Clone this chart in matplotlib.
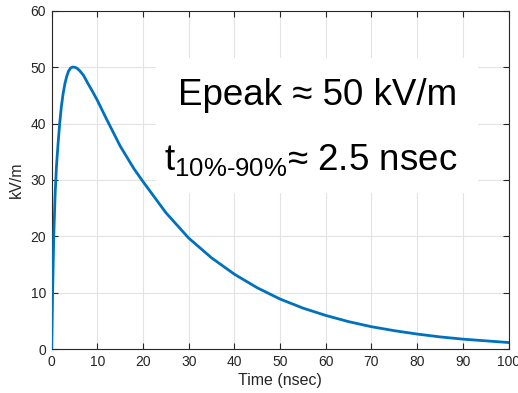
import matplotlib
matplotlib.use("Agg")
import matplotlib.pyplot as plt
from matplotlib.patches import Rectangle

plt.rcParams['font.family'] = ['Liberation Sans', 'DejaVu Sans']
plt.rcParams['mathtext.fontset'] = 'custom'
plt.rcParams['mathtext.rm'] = 'Liberation Sans'
plt.rcParams['mathtext.it'] = 'Liberation Sans'

# waveform
time_ns = [0, 0.2, 0.45, 0.75, 1.05, 1.4, 1.75, 2.1, 2.5, 2.9, 3.3, 3.7, 4.1,
           4.5, 4.9, 5.3, 5.7, 6.2, 7, 8, 9, 10, 12, 15, 18, 20, 25, 30, 35,
           40, 45, 50, 55, 60, 65, 70, 75, 80, 85, 90, 95, 100]
e_kvm = [0, 10, 20, 27.5, 32.5, 36.5, 40, 42.9, 45.3, 47.1, 48.4, 49.3, 49.8,
         50.0, 50.0, 49.9, 49.7, 49.3, 48.5, 47.0, 45.6, 44.1, 40.8, 36.0,
         32.0, 29.7, 24.2, 19.7, 16.2, 13.3, 10.9, 8.9, 7.3, 6.0, 4.9, 4.0,
         3.3, 2.7, 2.2, 1.8, 1.5, 1.2]

xticks = list(range(0, 101, 10))
yticks = list(range(0, 61, 10))

txt_peak = "Epeak \u2248 50 kV/m"
txt_rise = "t$_{10\\%\u201090\\%}$\u2248 2.5 nsec"

fig = plt.figure(figsize=(5.18, 3.93), dpi=100)
ax = fig.add_axes([0.0998, 0.1112, 0.8819, 0.8616])

ax.set_axisbelow(True)
ax.grid(True, color='#e3e3e3', linewidth=0.8)
ax.plot(time_ns, e_kvm, color='#0072BD', linewidth=2.0, zorder=3)

# white background behind the annotation text
ax.add_patch(Rectangle((22.8, 27.7), 70.5, 23.9, facecolor='white',
                       edgecolor='none', zorder=1))

ax.text(58.2, 43.3, txt_peak, fontsize=26.5, ha='center', va='baseline',
        color='black', zorder=4)
ax.text(56.7, 31.8, txt_rise, fontsize=26.5, ha='center', va='baseline',
        color='black', zorder=4)

ax.set_xlim(0, 100)
ax.set_ylim(0, 60)
ax.set_xticks(xticks)
ax.set_yticks(yticks)
ax.tick_params(direction='in', length=4, width=0.8, colors='#262626',
               labelsize=10, top=True, right=True, pad=4)
for s in ax.spines.values():
    s.set_color('#262626')
    s.set_linewidth(0.8)

ax.set_xlabel("Time (nsec)", fontsize=11.5, color='#262626', labelpad=3)
ax.set_ylabel("kV/m", fontsize=11.5, color='#262626', labelpad=5)

fig.savefig("out.png", dpi=100)
